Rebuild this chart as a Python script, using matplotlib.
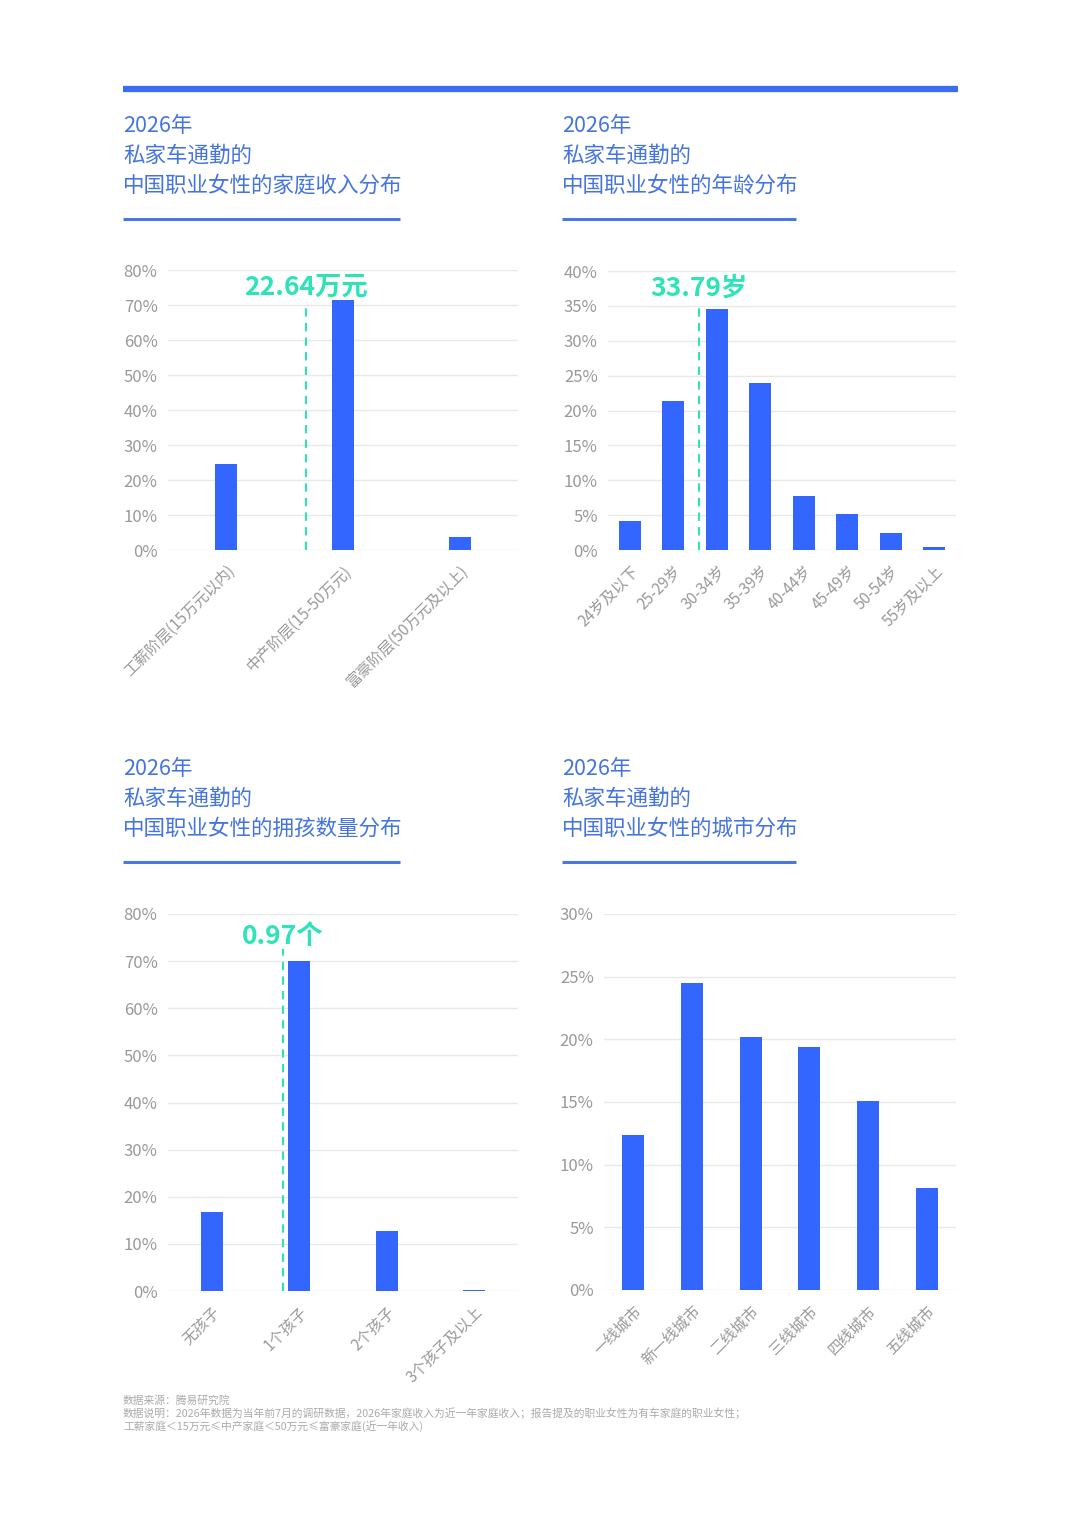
import matplotlib
matplotlib.use('Agg')
import matplotlib.pyplot as plt

plt.rcParams['font.family'] = ['Noto Sans CJK SC', 'DejaVu Sans']

W, H = 1080, 1516

# --- data ---
income_labels = ['工薪阶层(15万元以内)', '中产阶层(15-50万元)', '富豪阶层(50万元及以上)']
income_values = [24.5, 71.5, 3.6]

age_labels = ['24岁及以下', '25-29岁', '30-34岁', '35-39岁', '40-44岁', '45-49岁', '50-54岁', '55岁及以上']
age_values = [4.2, 21.3, 34.6, 23.9, 7.7, 5.1, 2.5, 0.4]

kids_labels = ['无孩子', '1个孩子', '2个孩子', '3个孩子及以上']
kids_values = [16.7, 70.0, 12.8, 0.3]

city_labels = ['一线城市', '新一线城市', '二线城市', '三线城市', '四线城市', '五线城市']
city_values = [12.4, 24.5, 20.2, 19.4, 15.1, 8.1]

titles = [
    ['2026年', '私家车通勤的', '中国职业女性的家庭收入分布'],
    ['2026年', '私家车通勤的', '中国职业女性的年龄分布'],
    ['2026年', '私家车通勤的', '中国职业女性的拥孩数量分布'],
    ['2026年', '私家车通勤的', '中国职业女性的城市分布'],
]

# average marker: (category position, label)
income_avg = (0.68, '22.64万元')
age_avg = (1.59, '33.79岁')
kids_avg = (0.81, '0.97个')

BAR = '#3366ff'
TITLE = '#4474e0'
TEAL = '#2ee3b8'
GREY = '#999999'


def px_axes(fig, x0, y0, x1, y1):
    return fig.add_axes([x0 / W, 1 - y1 / H, (x1 - x0) / W, (y1 - y0) / H])


def draw(ax, labels, values, ymax, step, width, avg=None, avg_top=None, avg_text_y=None):
    n = len(values)
    xs = list(range(n))
    ax.bar(xs, values, width=width, color=BAR, zorder=3)
    ax.set_xlim(-0.5, n - 0.5)
    ax.set_ylim(0, ymax)
    ax.set_yticks(range(0, ymax + 1, step))
    ax.set_yticklabels([f'{v}%' for v in range(0, ymax + 1, step)])
    ax.set_xticks(xs)
    ax.set_xticklabels(labels, rotation=45, ha='right', va='top', rotation_mode='anchor')
    ax.tick_params(axis='y', length=0, pad=7.5, labelsize=12, labelcolor=GREY)
    ax.tick_params(axis='x', length=0, pad=9, labelsize=11, labelcolor=GREY)
    ax.grid(axis='y', color='#e9e9e9', lw=1, zorder=0)
    for s in ax.spines.values():
        s.set_visible(False)
    if avg is not None:
        ax.plot([avg[0], avg[0]], [0, avg_top], color=TEAL, lw=1.5,
                dashes=(4, 3), zorder=4)
        ax.text(avg[0], avg_text_y, avg[1], color=TEAL, fontsize=19,
                fontweight='bold', ha='center', va='center', zorder=5)


fig = plt.figure(figsize=(W / 100, H / 100), dpi=100)

# top blue band
fig.add_artist(plt.Line2D([123 / W, 958 / W], [1 - 88.5 / H, 1 - 88.5 / H],
                          color='#3a6cf4', lw=4.5, solid_capstyle='butt'))

title_pos = [(123, 126, 400), (562, 126, 796), (123, 769, 400), (562, 769, 796)]
for (tx, ty, ux), lines in zip(title_pos, titles):
    for i, line in enumerate(lines):
        fig.text(tx / W, 1 - (ty + 30 * i) / H, line, color=TITLE, fontsize=15.5,
                 fontweight='light', ha='left', va='center')
    uy = ty + 93
    fig.add_artist(plt.Line2D([tx / W, ux / W], [1 - uy / H, 1 - uy / H],
                              color='#4a78e0', lw=2.2, solid_capstyle='butt'))

ax1 = px_axes(fig, 168, 270, 518, 550)
draw(ax1, income_labels, income_values, 80, 10, 0.19, income_avg, 70, 75)

ax2 = px_axes(fig, 608, 271, 956, 550)
draw(ax2, age_labels, age_values, 40, 5, 0.5, age_avg, 35, 37.6)

ax3 = px_axes(fig, 168, 914, 518, 1291)
draw(ax3, kids_labels, kids_values, 80, 10, 0.25, kids_avg, 72.5, 75.2)

ax4 = px_axes(fig, 604, 914, 956, 1290)
draw(ax4, city_labels, city_values, 30, 5, 0.375)

footer = [
    '数据来源：腾易研究院',
    '数据说明：2026年数据为当年前7月的调研数据，2026年家庭收入为近一年家庭收入；报告提及的职业女性为有车家庭的职业女性；',
    '工薪家庭＜15万元≤中产家庭＜50万元≤富豪家庭(近一年收入)',
]
for i, line in enumerate(footer):
    fig.text(123 / W, 1 - (1400 + 13 * i) / H, line, color='#aaaaaa', fontsize=7.75,
             ha='left', va='center')

fig.savefig('out.png', dpi=100, facecolor='white')
